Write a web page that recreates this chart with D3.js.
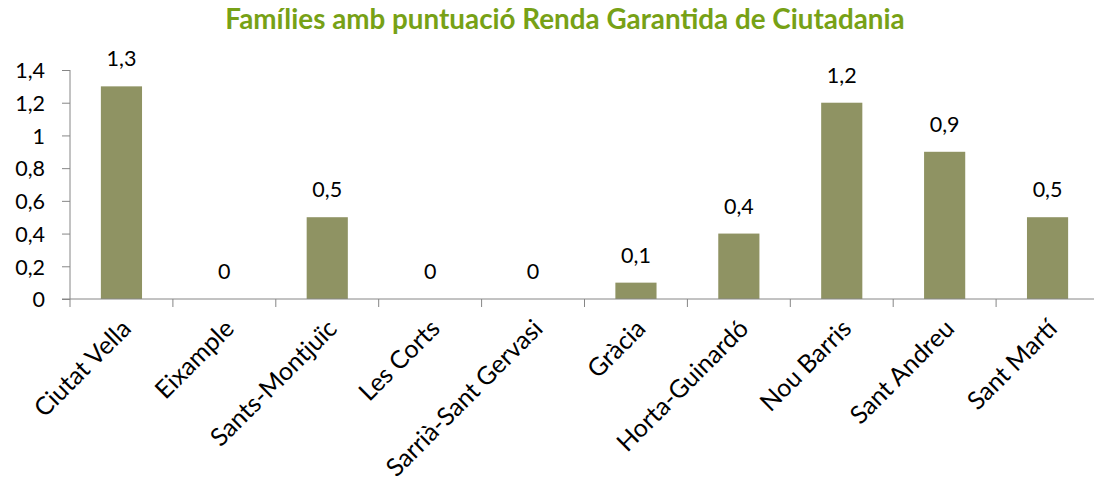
<!DOCTYPE html>
<html>
<head>
<meta charset="utf-8">
<title>Famílies amb puntuació Renda Garantida de Ciutadania</title>
<script src="https://d3js.org/d3.v7.min.js"></script>
<style>
  body { margin: 0; background: #fff; }
  svg text { font-family: Lato, "Open Sans", sans-serif; fill: #000; }
</style>
</head>
<body>
<div id="chart"></div>
<script>
// data
const districts = ["Ciutat Vella", "Eixample", "Sants-Montjuïc", "Les Corts", "Sarrià-Sant Gervasi",
  "Gràcia", "Horta-Guinardó", "Nou Barris", "Sant Andreu", "Sant Martí"];
const values = [1.3, 0, 0.5, 0, 0, 0.1, 0.4, 1.2, 0.9, 0.5];
const yTicks = [0, 0.2, 0.4, 0.6, 0.8, 1, 1.2, 1.4];

const width = 1094, height = 480;
const margin = { top: 70, right: -5, bottom: 181, left: 70 };

const fmt = v => String(v).replace(".", ",");

const svg = d3.select("#chart").append("svg")
  .attr("width", width)
  .attr("height", height);

svg.append("text")
  .attr("x", 565)
  .attr("y", 29)
  .attr("text-anchor", "middle")
  .style("font-size", "27.8px")
  .style("font-weight", "bold")
  .style("fill", "#77a116")
  .text("Famílies amb puntuació Renda Garantida de Ciutadania");

const x = d3.scaleBand()
  .domain(districts)
  .range([margin.left, width - margin.right])
  .paddingInner(0)
  .paddingOuter(0);

const y = d3.scaleLinear()
  .domain([0, 1.4])
  .range([height - margin.bottom, margin.top]);

const barW = x.bandwidth() * 0.4;

// y axis
const yAxis = svg.append("g")
  .attr("transform", `translate(${margin.left},0)`)
  .call(d3.axisLeft(y).tickValues(yTicks).tickSize(8).tickPadding(17).tickFormat(fmt));
yAxis.select(".domain").attr("stroke", "#868686").attr("d", `M0,${y(0)}V${y(1.4)}`);
yAxis.selectAll(".tick line").attr("stroke", "#868686");
yAxis.selectAll(".tick text").style("font-size", "21.5px").attr("dy", "0.36em");

// bars
svg.append("g").selectAll("rect")
  .data(values)
  .join("rect")
  .attr("x", (d, i) => x(districts[i]) + (x.bandwidth() - barW) / 2)
  .attr("y", d => y(d))
  .attr("width", barW)
  .attr("height", d => y(0) - y(d))
  .attr("fill", "#8f9363");

// data labels
svg.append("g").selectAll("text")
  .data(values)
  .join("text")
  .attr("x", (d, i) => x(districts[i]) + x.bandwidth() / 2)
  .attr("y", d => y(d) - 20)
  .attr("text-anchor", "middle")
  .style("font-size", "21.5px")
  .text(d => fmt(d));

// x axis
const xAxis = svg.append("g")
  .attr("transform", `translate(0,${y(0)})`)
  .call(d3.axisBottom(x).tickSize(0).tickFormat(""));
xAxis.select(".domain").attr("stroke", "#868686").attr("d", `M${margin.left - 8},0H${width}`);

const bounds = districts.map(d => x(d)).concat([x.range()[1]]);
xAxis.selectAll(".sep")
  .data(bounds)
  .join("line")
  .attr("class", "sep")
  .attr("x1", d => d).attr("x2", d => d)
  .attr("y1", 0).attr("y2", 8)
  .attr("stroke", "#868686");

xAxis.selectAll(".lbl")
  .data(districts)
  .join("text")
  .attr("class", "lbl")
  .attr("text-anchor", "end")
  .attr("transform", d => `translate(${x(d) + x.bandwidth() / 2 + 5},${25}) rotate(-45)`)
  .attr("dy", "0.35em")
  .style("font-size", "25px")
  .text(d => d);
</script>
</body>
</html>
